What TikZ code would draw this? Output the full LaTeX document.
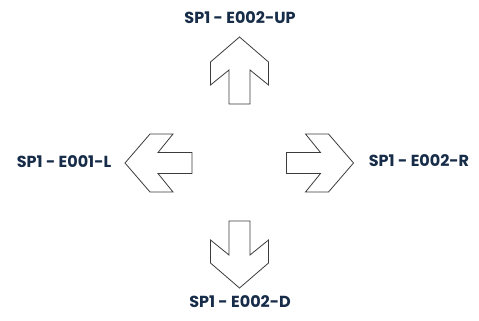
\documentclass[tikz,border=0pt]{standalone}
\usepackage{fontspec}
\setmainfont{Poppins}
\definecolor{navy}{RGB}{22,44,72}
\definecolor{outline}{RGB}{60,60,60}
\tikzset{
  lab/.style={font=\bfseries\fontsize{16pt}{17pt}\selectfont, text=navy, inner sep=0pt, anchor=center},
  arrline/.style={draw=outline, line width=0.8pt, line join=miter},
  arr/.pic={\draw[arrline] (0,0) -- (25pt,29pt) -- (48pt,29pt) -- (33pt,10.5pt) -- (67pt,10.5pt) -- (67pt,-10.5pt) -- (33pt,-10.5pt) -- (48pt,-29pt) -- (25pt,-29pt) -- cycle;}
}
\begin{document}
\begin{tikzpicture}[x=1pt,y=1pt]
\fill[white] (0,0) rectangle (479,-321);
\useasboundingbox (0,0) rectangle (479,-321);
\pic[rotate=-90] at (239.5,-37) {arr};
\pic at (125,-163) {arr};
\pic[rotate=180] at (353.5,-163) {arr};
\pic[rotate=90] at (239.5,-288) {arr};
\node[lab] (up) at (240,-18) {SP1 - E002-UP};
\node[lab] (left) at (64,-162) {SP1 - E001-L};
\node[lab] (right) at (419,-161) {SP1 - E002-R};
\node[lab] (down) at (240,-302) {SP1 - E002-D};
\end{tikzpicture}
\end{document}
